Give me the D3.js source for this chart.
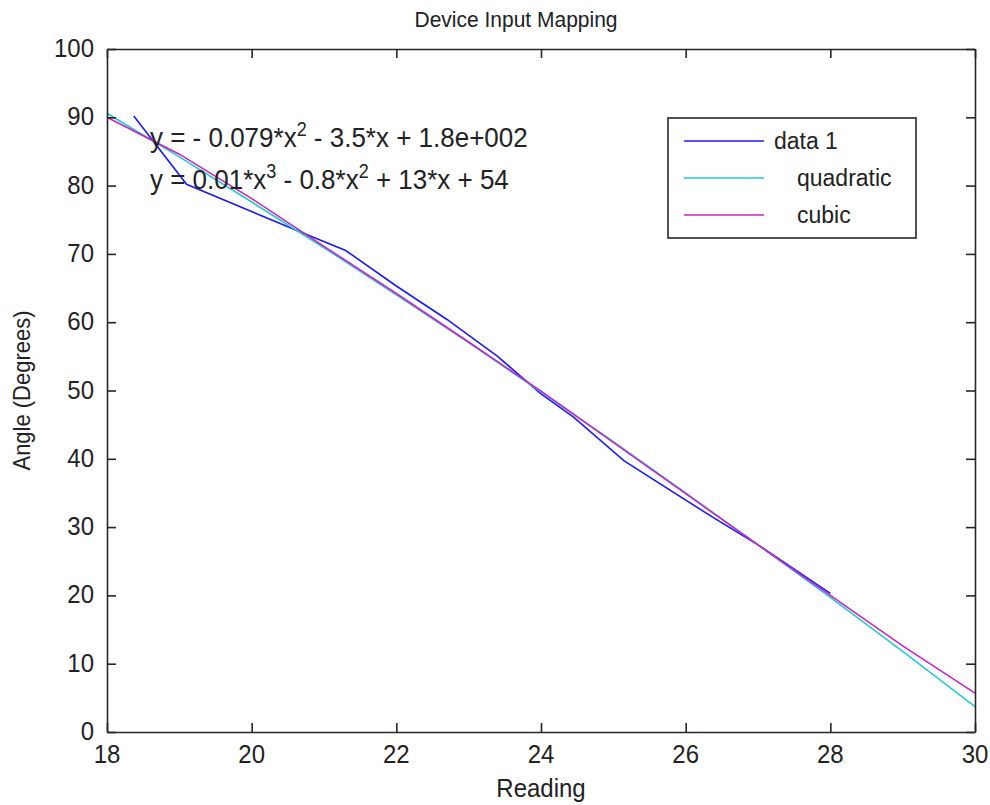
<!DOCTYPE html>
<html>
<head>
<meta charset="utf-8">
<script src="https://cdn.jsdelivr.net/npm/d3@7"></script>
<style>
  body { margin: 0; background: #fff; }
  text { font-family: "Liberation Sans", Arial, sans-serif; fill: #222; }
</style>
</head>
<body>
<div class="container"></div>
<script>
const dataX = [18.37, 19.1, 20.65, 21.3, 22.0, 22.7, 23.4, 24.0, 24.45, 25.15, 26.35, 27.0, 28.0];
const dataY = [90.2, 80.2, 73.3, 70.5, 65.3, 60.4, 55.0, 49.5, 46.1, 39.7, 31.6, 27.4, 20.3];

// fitted curves, read at each integer reading
const fitX = [18, 19, 20, 21, 22, 23, 24, 25, 26, 27, 28, 29, 30];
const quadY = [90.6, 84.2, 77.6, 70.9, 64.0, 57.0, 49.8, 42.5, 35.0, 27.4, 19.7, 11.8, 3.7];
const cubicY = [90.0, 84.6, 78.1, 71.1, 64.2, 57.1, 49.9, 42.4, 34.9, 27.4, 20.0, 12.6, 5.7];

const xTicks = [18, 20, 22, 24, 26, 28, 30];
const yTicks = [0, 10, 20, 30, 40, 50, 60, 70, 80, 90, 100];
const legendNames = ["data 1", "quadratic", "cubic"];
const colors = ["#1a1aff", "#22cccc", "#cc22cc"];

const margin = { top: 49, right: 15, bottom: 73, left: 107 };
const width = 990 - margin.left - margin.right;
const height = 805 - margin.top - margin.bottom;
const stretch = 1.08; // original figure was stretched a bit more vertically

const svg = d3.select(".container")
  .append("svg")
  .attr("width", 990)
  .attr("height", 805);

const g = svg.append("g")
  .attr("transform", "translate(" + margin.left + "," + margin.top + ")");

const xScale = d3.scaleLinear().domain([18, 30]).range([0, width]);
const yScale = d3.scaleLinear().domain([0, 100]).range([height, 0]);

function addText(parent, x, y, size, anchor, str, rotate) {
  return parent.append("text")
    .attr("transform", "translate(" + x + "," + y + ")" + (rotate ? " rotate(-90)" : "") + " scale(1," + stretch + ")")
    .attr("font-size", size)
    .attr("text-anchor", anchor)
    .text(str);
}

// lines first, axes box on top
const line = d3.line().x(d => xScale(d[0])).y(d => yScale(d[1]));
const series = [
  d3.zip(dataX, dataY),
  d3.zip(fitX, quadY),
  d3.zip(fitX, cubicY)
];
g.selectAll(".series")
  .data(series)
  .enter()
  .append("path")
  .attr("class", "series")
  .attr("d", line)
  .attr("fill", "none")
  .attr("stroke", (d, i) => colors[i])
  .attr("stroke-width", 1.6);

// axes with inward ticks on all four sides
const axisColor = "#262626";
const xAxis = d3.axisBottom(xScale).tickValues(xTicks).tickSizeInner(-9).tickSizeOuter(0).tickFormat("");
const xAxisTop = d3.axisTop(xScale).tickValues(xTicks).tickSizeInner(-9).tickSizeOuter(0).tickFormat("");
const yAxis = d3.axisLeft(yScale).tickValues(yTicks).tickSizeInner(-9).tickSizeOuter(0).tickFormat("");
const yAxisRight = d3.axisRight(yScale).tickValues(yTicks).tickSizeInner(-9).tickSizeOuter(0).tickFormat("");

g.append("g").attr("transform", "translate(0," + height + ")").call(xAxis);
g.append("g").call(xAxisTop);
g.append("g").call(yAxis);
g.append("g").attr("transform", "translate(" + width + ",0)").call(yAxisRight);
g.selectAll(".domain, .tick line")
  .attr("stroke", axisColor)
  .attr("stroke-width", 1.6);

// tick labels
xTicks.forEach(t => addText(g, xScale(t), height + 31, 24, "middle", t));
yTicks.forEach(t => addText(g, -13, yScale(t) + 8, 24, "end", t));

// title and axis labels
addText(svg, 516, 27, 21, "middle", "Device Input Mapping");
addText(svg, margin.left + width / 2, 797, 24, "middle", "Reading");
addText(svg, 30, margin.top + height / 2, 22, "middle", "Angle (Degrees)", true);

// fit equations
const eqs = [
  ["y = - 0.079*x", "2", " - 3.5*x + 1.8e+002"],
  ["y = 0.01*x", "3", " - 0.8*x", "2", " + 13*x + 54"]
];
eqs.forEach((parts, k) => {
  const t = addText(svg, 150, 147 + k * 42, 26, "start", "");
  parts.forEach((p, j) => {
    const sup = j % 2 === 1;
    t.append("tspan")
      .attr("dy", sup ? -10 : (j > 0 ? 10 : 0))
      .attr("font-size", sup ? 18 : 26)
      .text(p);
  });
});

// legend
const legend = svg.append("g");
legend.append("rect")
  .attr("x", 668).attr("y", 118)
  .attr("width", 248).attr("height", 120)
  .attr("fill", "#fff")
  .attr("stroke", axisColor)
  .attr("stroke-width", 1.6);
legendNames.forEach((name, i) => {
  const y = 141 + i * 37;
  legend.append("line")
    .attr("x1", 684).attr("x2", 764)
    .attr("y1", y).attr("y2", y)
    .attr("stroke", colors[i])
    .attr("stroke-width", 1.6);
  addText(legend, i === 0 ? 774 : 797, y + 8, 23, "start", name);
});
</script>
</body>
</html>
